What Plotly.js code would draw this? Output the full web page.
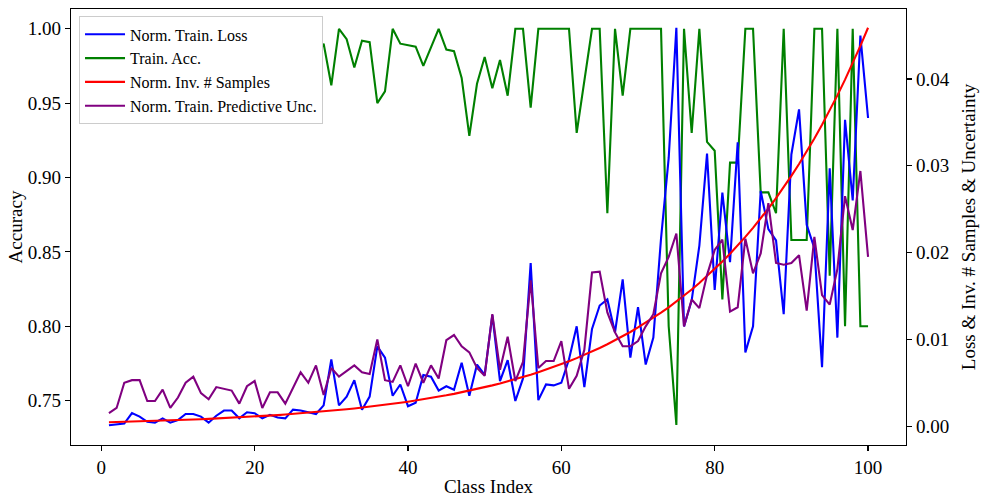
<!DOCTYPE html>
<html>
<head>
<meta charset="utf-8">
<script src="https://cdn.plot.ly/plotly-3.0.1.min.js"></script>
<style>
html,body{margin:0;padding:0;background:#fff;}
#chart{width:982px;height:500px;}
</style>
</head>
<body>
<div id="chart"></div>
<script>
// Class index 1..100
const classIndex = [1,2,3,4,5,6,7,8,9,10,11,12,13,14,15,16,17,18,19,20,21,22,23,24,25,26,27,28,29,30,31,32,33,34,35,36,37,38,39,40,41,42,43,44,45,46,47,48,49,50,51,52,53,54,55,56,57,58,59,60,61,62,63,64,65,66,67,68,69,70,71,72,73,74,75,76,77,78,79,80,81,82,83,84,85,86,87,88,89,90,91,92,93,94,95,96,97,98,99,100];

// Norm. Train. Loss (right axis)
const trainLoss = [0.0001,0.0002,0.0003,0.0015,0.0011,0.0005,0.0004,0.0009,0.0004,0.0007,
0.0014,0.0014,0.0011,0.0004,0.0012,0.0018,0.0018,0.0009,0.0016,0.0015,
0.0009,0.0013,0.0010,0.0009,0.0019,0.0018,0.0016,0.0014,0.0024,0.0077,
0.0024,0.0034,0.0053,0.0019,0.0034,0.0092,0.0079,0.0035,0.0048,0.0023,
0.0027,0.0059,0.0057,0.0041,0.0046,0.0042,0.0073,0.0035,0.0071,0.0059,
0.0128,0.0052,0.0076,0.0029,0.0055,0.0188,0.0030,0.0048,0.0047,0.0050,
0.0077,0.0115,0.0045,0.0112,0.0139,0.0146,0.0108,0.0169,0.0079,0.0137,
0.0071,0.0102,0.0216,0.0309,0.0459,0.0115,0.0145,0.0208,0.0314,0.0157,
0.0269,0.0189,0.0327,0.0085,0.0115,0.0271,0.0227,0.0214,0.0129,0.0313,
0.0365,0.0232,0.0205,0.0068,0.0297,0.0102,0.0353,0.0260,0.0450,0.0355];

// Train. Acc. (left axis)
const trainAcc = [1.0,1.0,1.0,0.99,1.0,1.0,1.0,0.99,1.0,1.0,
0.98,1.0,1.0,1.0,0.99,1.0,1.0,1.0,0.98,1.0,
0.99,1.0,1.0,0.97,1.0,0.99,1.0,0.98,0.99,0.962,
1.0,0.993,0.974,0.992,0.991,0.950,0.958,1.0,0.990,0.989,
0.988,0.975,0.987,1.0,0.986,0.985,0.967,0.928,0.963,0.981,
0.960,0.979,0.955,1.0,1.0,0.947,1.0,1.0,1.0,1.0,
1.0,0.930,0.965,1.0,1.0,0.876,1.0,0.955,1.0,1.0,
1.0,1.0,1.0,0.800,0.7337,1.0,0.930,1.0,0.924,0.918,
0.818,0.910,0.910,1.0,1.0,0.890,0.890,0.876,1.0,0.858,
0.858,0.858,1.0,1.0,0.834,1.0,0.800,1.0,0.800,0.800];

// Norm. Inv. # Samples (right axis)
const invSamples = [0.000459,0.000481,0.000504,0.000528,0.000553,0.000579,0.000607,0.000636,0.000666,0.000698,
0.000731,0.000766,0.000802,0.000840,0.000880,0.000922,0.000966,0.001012,0.001060,0.001111,
0.001164,0.001219,0.001277,0.001338,0.001402,0.001468,0.001538,0.001612,0.001688,0.001769,
0.001853,0.001941,0.002034,0.002130,0.002232,0.002338,0.002450,0.002566,0.002688,0.002816,
0.002950,0.003091,0.003238,0.003392,0.003554,0.003723,0.003900,0.004086,0.004281,0.004484,
0.004698,0.004922,0.005156,0.005402,0.005659,0.005928,0.006210,0.006506,0.006816,0.007141,
0.007481,0.007837,0.008210,0.008601,0.009010,0.009439,0.009889,0.010360,0.010853,0.011370,
0.011911,0.012478,0.013073,0.013695,0.014347,0.015030,0.015746,0.016496,0.017281,0.018104,
0.018966,0.019869,0.020815,0.021806,0.022845,0.023932,0.025072,0.026266,0.027516,0.028827,
0.030199,0.031637,0.033144,0.034722,0.036375,0.038107,0.039922,0.041822,0.043814,0.045900];

// Norm. Train. Predictive Unc. (right axis)
const predUnc = [0.0015,0.0021,0.0050,0.0053,0.0053,0.0029,0.0029,0.0042,0.0021,0.0033,
0.0050,0.0057,0.0038,0.0031,0.0045,0.0043,0.0041,0.0026,0.0046,0.0052,
0.0021,0.0039,0.0039,0.0026,0.0044,0.0062,0.0050,0.0070,0.0036,0.0067,
0.0057,0.0064,0.0070,0.0062,0.0060,0.0100,0.0053,0.0051,0.0070,0.0046,
0.0072,0.0050,0.0070,0.0055,0.0099,0.0105,0.0092,0.0085,0.0067,0.0058,
0.0129,0.0065,0.0103,0.0052,0.0074,0.0168,0.0067,0.0075,0.0075,0.0098,
0.0043,0.0058,0.0088,0.0177,0.0178,0.0131,0.0108,0.0092,0.0092,0.0098,
0.0115,0.0129,0.0176,0.0195,0.0222,0.0115,0.0146,0.0136,0.0174,0.0203,
0.0215,0.0132,0.0137,0.0216,0.0176,0.0199,0.0257,0.0188,0.0186,0.0188,
0.0197,0.0133,0.0218,0.0151,0.0140,0.0181,0.0265,0.0226,0.0294,0.0195];

const seriesNames = ['Norm. Train. Loss','Train. Acc.','Norm. Inv. # Samples','Norm. Train. Predictive Unc.'];
const xTicks = [0,20,40,60,80,100];
const accTicks = [0.75,0.80,0.85,0.90,0.95,1.00];
const rightTicks = [0.00,0.01,0.02,0.03,0.04];

const FONT = 'Liberation Serif, Times New Roman, serif';
const lw = 2.1;

const traces = [
  {x: classIndex, y: trainLoss, name: seriesNames[0], type:'scatter', mode:'lines', yaxis:'y2',
   line:{color:'#0000ff', width:lw}},
  {x: classIndex, y: trainAcc, name: seriesNames[1], type:'scatter', mode:'lines', yaxis:'y',
   line:{color:'#008000', width:lw}},
  {x: classIndex, y: invSamples, name: seriesNames[2], type:'scatter', mode:'lines', yaxis:'y2',
   line:{color:'#ff0000', width:lw}},
  {x: classIndex, y: predUnc, name: seriesNames[3], type:'scatter', mode:'lines', yaxis:'y2',
   line:{color:'#800080', width:lw}}
];

const layout = {
  width: 982, height: 500,
  margin: {l:71, r:76, t:9, b:55, pad:0},
  paper_bgcolor:'#ffffff', plot_bgcolor:'#ffffff',
  font: {family: FONT, color:'#000000', size:19},
  showlegend: true,
  legend: {x:0.0096, y:0.983, xanchor:'left', yanchor:'top',
    bgcolor:'#ffffff', bordercolor:'#cccccc', borderwidth:1, itemwidth:40,
    font:{family: FONT, size:16, color:'#000000'}, tracegroupgap:0},
  xaxis: {range:[-3.95,104.95], tickmode:'array', tickvals:xTicks, ticktext:xTicks.map(String),
    showgrid:false, zeroline:false, showline:true, linecolor:'#000', linewidth:1.1, mirror:true,
    ticks:'outside', ticklen:5, tickwidth:1.1, tickcolor:'#000',
    tickfont:{family:FONT, size:19},
    title:{text:'Class Index', font:{family:FONT, size:19}, standoff:2}},
  yaxis: {range:[0.7202,1.0133], tickmode:'array', tickvals:accTicks, ticktext:accTicks.map(v=>v.toFixed(2)),
    showgrid:false, zeroline:false, showline:true, linecolor:'#000', linewidth:1.1,
    ticks:'outside', ticklen:5, tickwidth:1.1, tickcolor:'#000',
    tickfont:{family:FONT, size:19},
    title:{text:'Accuracy', font:{family:FONT, size:19}, standoff:0}},
  yaxis2: {range:[-0.00217,0.04806], overlaying:'y', side:'right', tickmode:'array', tickvals:rightTicks,
    ticktext:rightTicks.map(v=>v.toFixed(2)),
    showgrid:false, zeroline:false, showline:true, linecolor:'#000', linewidth:1.1,
    ticks:'outside', ticklen:5, tickwidth:1.1, tickcolor:'#000',
    tickfont:{family:FONT, size:19},
    title:{text:'Loss &amp; Inv. # Samples &amp; Uncertainty', font:{family:FONT, size:19}, standoff:13}}
};

Plotly.newPlot('chart', traces, layout, {displayModeBar:false, staticPlot:true});
</script>
</body>
</html>
